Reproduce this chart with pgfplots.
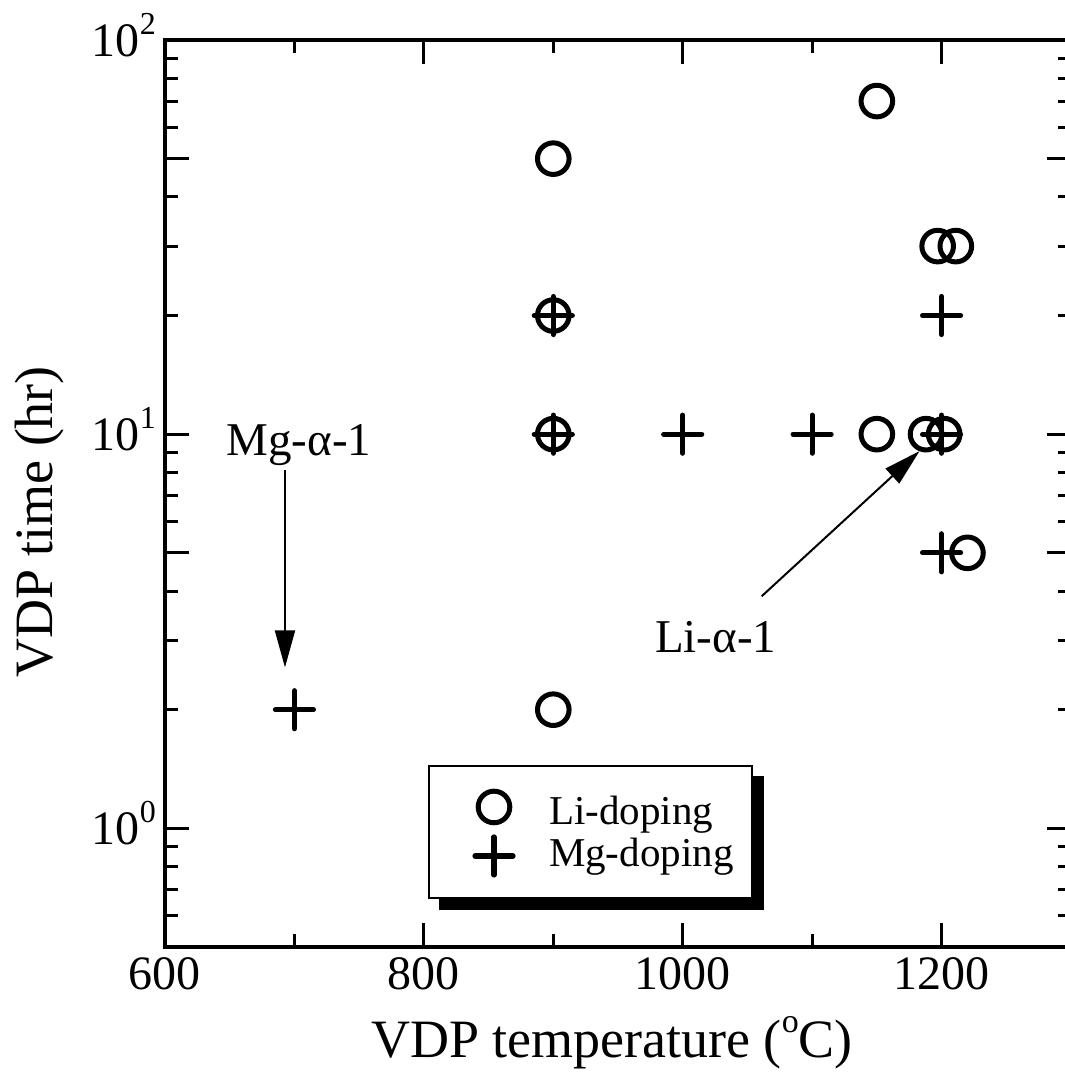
\documentclass[border=0pt]{standalone}
\usepackage{fontspec}
\setmainfont{Liberation Serif}
\usepackage{pgfplots}
\pgfplotsset{compat=1.18}
\usetikzlibrary{arrows.meta}
\newcommand{\fT}{\fontsize{24}{28}\selectfont}
\newcommand{\fA}{\fontsize{27}{31}\selectfont}
\newcommand{\fN}{\fontsize{23.5}{27}\selectfont}
\newcommand{\fL}{\fontsize{20.5}{22}\selectfont}
\newcommand{\tp}[1]{10\raisebox{0.46em}{\fontsize{16}{16}\selectfont #1}}
\pgfplotsset{
  limg/.style={legend image code/.code={%
    \path[draw=none,use as bounding box] (0pt,-10.5pt) rectangle (51pt,10.5pt);
    \pgfinterruptboundingbox
    \draw[##1] plot coordinates {(23.5pt,#1)};
    \endpgfinterruptboundingbox}},
}

\begin{document}
\begin{tikzpicture}
\begin{axis}[
  scale only axis,
  width=453pt, height=453.5pt,
  ymode=log,
  xmin=600, xmax=1300, ymin=0.5, ymax=100,
  xtick={600,800,1000,1200}, minor xtick={700,900,1100},
  ytick={1,10,100},
  yticklabels={\tp{0},\tp{1},\tp{2}},
  minor ytick={0.6,0.7,0.8,0.9,2,3,4,6,7,8,9,20,30,40,60,70,80,90},
  extra y ticks={5,50}, extra y tick labels={},
  extra tick style={major tick length=12pt},
  tick align=inside,
  major tick length=12pt, minor tick length=6.5pt,
  every tick/.style={black,line width=1.5pt},
  axis line style={line width=1.6pt},
  /pgf/number format/assume math mode=true,
  /pgf/number format/1000 sep={},
  tick label style={font=\fT},
  xticklabel style={yshift=-1.8pt},
  yticklabel style={anchor=base east,xshift=-1pt,yshift=-8.1pt},
  label style={font=\fA},
  xlabel={VDP temperature (\raisebox{0.45em}{\fontsize{17}{17}\selectfont o}C)},
  ylabel={VDP time (hr)},
  xlabel style={at={(axis description cs:0.4934,-0.1213)},anchor=base},
  ylabel style={at={(axis description cs:-0.1247,0.4686)},anchor=base},
  legend cell align=left,
  legend style={name=leg,at={(axis description cs:0.2903,0.2007)},anchor=north west,
    draw=black,line width=1pt,fill=white,
    inner xsep=9pt,inner ysep=12pt,row sep=0pt,font=\fL,
    nodes={inner xsep=0pt,inner ysep=0pt,text height=17.5pt,text depth=3.5pt}},
]
\coordinate (sw) at (rel axis cs:0,0);
\coordinate (ne) at (rel axis cs:1,1);

% Li-doping
\addplot[only marks,mark=o,mark size=7.9pt,line width=2.5pt,black,limg=2pt]
  coordinates {
  (900,50) (1150,70) (900,20) (900,10) (1150,10) (1188,10) (1202,10)
  (1197,30) (1211,30) (1220,5) (900,2)
};
\addlegendentry{Li-doping}

% Mg-doping
\addplot[only marks,mark=+,mark size=9.5pt,line width=2.6pt,black,
  mark options={line cap=round},limg=-1.5pt]
  coordinates {
  (700,2) (900,20) (900,10) (1000,10) (1100,10) (1200,20) (1200,10) (1200,5)
};
\addlegendentry{Mg-doping}

% annotations
\node[font=\fN,anchor=base] at (axis cs:703.5,8.84) {Mg-α-1};
\draw[-{Triangle[length=18.5pt,width=10pt]},line width=1pt]
  (axis cs:692.7,8.1) -- (axis cs:692.7,2.56);
\node[font=\fN,anchor=base] at (axis cs:1025.5,2.797) {Li-α-1};
\draw[-{Triangle[length=18.5pt,width=10pt]},line width=1pt]
  (axis cs:1061,3.88) -- (axis cs:1183,9.06);
\end{axis}
% legend shadow
\fill[black] ([yshift=-5.5pt]leg.north east) rectangle ([xshift=5.5pt,yshift=-5.5pt]leg.south east);
\fill[black] ([xshift=5.5pt]leg.south west) rectangle ([xshift=5.5pt,yshift=-5.5pt]leg.south east);
\pgfresetboundingbox
\path[use as bounding box] ([xshift=-82.5pt,yshift=-65pt]sw) rectangle ([xshift=-3pt,yshift=20pt]ne);
\end{tikzpicture}
\end{document}
